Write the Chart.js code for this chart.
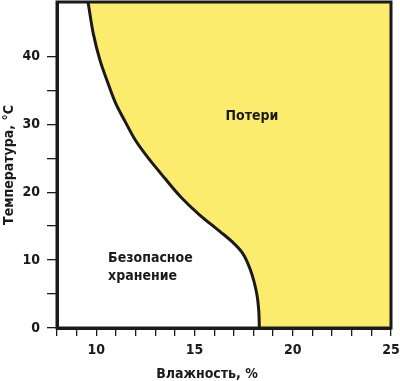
<!DOCTYPE html>
<html>
<head>
<meta charset="utf-8">
<script src="https://cdn.jsdelivr.net/npm/chart.js@4.4.1/dist/chart.umd.min.js"></script>
<style>
  html, body { margin: 0; padding: 0; background: #ffffff; }
  #wrap { width: 400px; height: 381px; position: relative; }
</style>
</head>
<body>
<div id="wrap"><canvas id="c" width="400" height="381"></canvas></div>
<script>
// ---- Data ----
// Boundary curve: temperature (°C) vs moisture (%)
const temperature = [0, 2.5, 5, 8.5, 11, 12.6, 14.2, 16.6, 19.3, 22, 25, 27.6, 30.5, 33, 36, 39.4, 43.3, 48];
const moisture    = [18.3, 18.27, 18.17, 17.85, 17.45, 16.95, 16.3, 15.28, 14.3, 13.5, 12.65, 12.0, 11.45, 11.0, 10.6, 10.19, 9.85, 9.58];

const xTickLabels = [10, 15, 20, 25];
const yTickLabels = [0, 10, 20, 30, 40];
const xRange = [8, 25];
const yRange = [0, 48];

const xTitle = 'Влажность, %';
const yTitle = 'Температура, °C';

const regionLabels = [
  { lines: ['Потери'], x: 17.92, y: 31.2, align: 'center' },
  { lines: ['Безопасное', 'хранение'], x: 10.6, y: 10.3, align: 'left' }
];

// ---- Styles ----
const INK = '#1a1a1a';
const YELLOW = '#FBEC6E';
const FAMILY = "'Noto Sans ExtraCondensed', 'Noto Sans Condensed', 'Liberation Sans Narrow', 'DejaVu Sans Condensed', sans-serif";

Chart.defaults.font.family = FAMILY;
Chart.defaults.color = INK;

const points = temperature.map((t, i) => ({ x: moisture[i], y: t }));

const labelPlugin = {
  id: 'regionLabels',
  afterDatasetsDraw(chart) {
    const ctx = chart.ctx;
    const xs = chart.scales.x, ys = chart.scales.y;
    const a = chart.chartArea;
    ctx.save();
    // frame around plot area (drawn above the fill)
    ctx.strokeStyle = INK;
    ctx.lineWidth = 3;
    ctx.strokeRect(a.left, a.top, a.right - a.left, a.bottom - a.top);
    ctx.fillStyle = INK;
    ctx.font = 'bold 14px ' + FAMILY;
    ctx.textBaseline = 'middle';
    regionLabels.forEach(l => {
      ctx.textAlign = l.align;
      const px = xs.getPixelForValue(l.x);
      const py = ys.getPixelForValue(l.y);
      l.lines.forEach((s, k) => ctx.fillText(s, px, py + k * 18));
    });
    ctx.restore();
  }
};

new Chart(document.getElementById('c'), {
  type: 'line',
  data: {
    datasets: [{
      data: points,
      borderColor: INK,
      borderWidth: 3,
      backgroundColor: YELLOW,
      fill: { value: xRange[1] },
      pointRadius: 0,
      cubicInterpolationMode: 'monotone'
    }]
  },
  plugins: [labelPlugin],
  options: {
    responsive: false,
    animation: false,
    indexAxis: 'y',
    layout: { padding: { left: 14, right: 0, top: 0, bottom: 0 } },
    plugins: {
      legend: { display: false },
      tooltip: { enabled: false },
      title: {
        display: true,
        position: 'bottom',
        text: xTitle,
        color: INK,
        font: { size: 14, weight: 'bold', lineHeight: 1 },
        padding: { top: 0, bottom: 0 }
      }
    },
    scales: {
      x: {
        type: 'linear',
        position: 'bottom',
        min: xRange[0], max: xRange[1],
        afterFit(s) { s.height = 39; s.paddingLeft = 0; s.paddingRight = 0; },
        afterBuildTicks(s) { s.ticks = s.ticks.filter(t => Number.isInteger(t.value)); },
        ticks: {
          stepSize: 1,
          autoSkip: false,
          maxRotation: 0,
          padding: 6,
          color: INK,
          font: { size: 14, weight: 'bold' },
          callback: v => xTickLabels.includes(v) ? String(v) : ''
        },
        grid: { display: true, drawOnChartArea: false, drawTicks: true, tickLength: 8, color: INK, lineWidth: 1.3 },
        border: { display: true, color: INK, width: 3 }
      },
      y: {
        type: 'linear',
        position: 'left',
        min: yRange[0], max: yRange[1],
        afterFit(s) { s.width = 43; s.paddingTop = 0; s.paddingBottom = 0; },
        afterBuildTicks(s) { s.ticks = s.ticks.filter(t => t.value % 5 === 0 && t.value <= yTickLabels[yTickLabels.length - 1]); },
        ticks: {
          stepSize: 5,
          autoSkip: false,
          padding: 7,
          color: INK,
          font: { size: 14, weight: 'bold' },
          callback: v => yTickLabels.includes(v) ? String(v) : ''
        },
        title: {
          display: true,
          text: yTitle,
          color: INK,
          font: { size: 14, weight: 'bold', lineHeight: 1 },
          padding: { top: -12, bottom: 0 }
        },
        grid: { display: true, drawOnChartArea: false, drawTicks: true, tickLength: 10, color: INK, lineWidth: 1.3 },
        border: { display: true, color: INK, width: 3 }
      },
      x2: {
        type: 'linear',
        position: 'top',
        min: xRange[0], max: xRange[1],
        afterFit(s) { s.height = 2; s.paddingLeft = 0; s.paddingRight = 0; },
        ticks: { display: false },
        grid: { display: false, drawTicks: false },
        border: { display: false }
      },
      y2: {
        type: 'linear',
        position: 'right',
        min: yRange[0], max: yRange[1],
        afterFit(s) { s.width = 9; s.paddingTop = 0; s.paddingBottom = 0; },
        ticks: { display: false },
        grid: { display: false, drawTicks: false },
        border: { display: false }
      }
    }
  }
});
</script>
</body>
</html>
